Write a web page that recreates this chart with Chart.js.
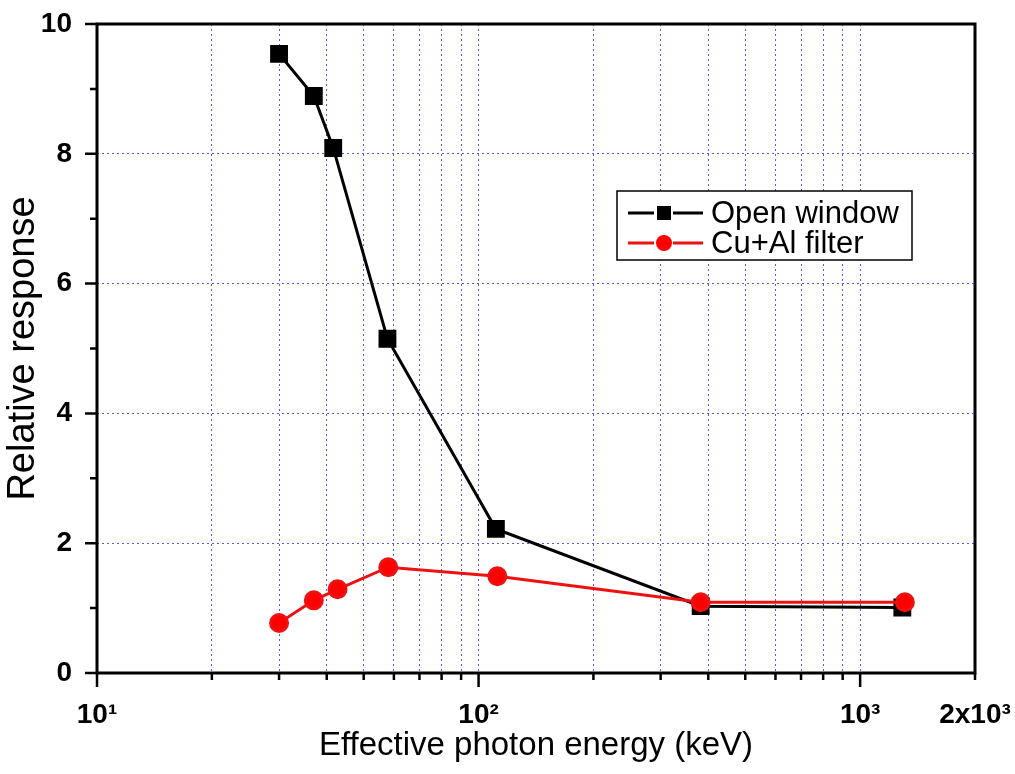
<!DOCTYPE html>
<html>
<head>
<meta charset="utf-8">
<script src="https://cdn.jsdelivr.net/npm/chart.js@4"></script>
<style>
  html, body { margin: 0; padding: 0; background: #fff; }
  #wrap { width: 1015px; height: 774px; }
</style>
</head>
<body>
<div id="wrap"><canvas id="grafico"></canvas></div>
<script>
// datos
const openEnergy = [30, 37, 41.6, 57.7, 111, 382, 1290];
const openResp = [9.54, 8.89, 8.09, 5.15, 2.22, 1.03, 1.01];
const filterEnergy = [30, 37, 42.7, 58, 112, 382, 1310];
const filterResp = [0.77, 1.12, 1.29, 1.63, 1.49, 1.09, 1.09];

const xTicks = [10, 20, 30, 40, 50, 60, 70, 80, 90, 100, 200, 300, 400, 500, 600, 700, 800, 900, 1000, 2000];
const xLabels = { 10: "10\u00B9", 100: "10\u00B2", 1000: "10\u00B3", 2000: "2x10\u00B3" };
const xMajor = [10, 100, 1000];
const xGrid = [20, 30, 40, 50, 60, 70, 80, 90, 100, 200, 300, 400, 500, 600, 700, 800, 900, 1000];
const yTicks = [0, 1, 2, 3, 4, 5, 6, 7, 8, 9, 10];
const yLabels = [0, 2, 4, 6, 8, 10];
const yGrid = [2, 4, 6, 8];

const gridColor = "rgb(90,90,225)";

// marco y marcas de los ejes
const marco = {
  id: "marco",
  afterDraw(chart) {
    const ctx = chart.ctx;
    const a = chart.chartArea;
    const x = chart.scales.x, y = chart.scales.y;
    ctx.save();
    ctx.strokeStyle = "#000";
    ctx.lineWidth = 3;
    ctx.strokeRect(a.left, a.top, a.right - a.left, a.bottom - a.top);
    ctx.lineWidth = 2.5;
    ctx.beginPath();
    xTicks.forEach(v => {
      const px = x.getPixelForValue(v);
      const len = xMajor.includes(v) ? 14 : 7;
      ctx.moveTo(px, a.bottom);
      ctx.lineTo(px, a.bottom + len);
    });
    yTicks.forEach(v => {
      const py = y.getPixelForValue(v);
      const len = yLabels.includes(v) ? 12 : 7;
      ctx.moveTo(a.left, py);
      ctx.lineTo(a.left - len, py);
    });
    ctx.stroke();
    ctx.restore();
  }
};

// leyenda dentro del grafico
const leyenda = {
  id: "leyenda",
  afterDraw(chart) {
    const ctx = chart.ctx;
    const bx = 617, by = 191, bw = 295, bh = 69;
    ctx.save();
    ctx.fillStyle = "#fff";
    ctx.fillRect(bx, by, bw, bh);
    ctx.strokeStyle = "#000";
    ctx.lineWidth = 1.5;
    ctx.strokeRect(bx, by, bw, bh);
    const filas = [chart.data.datasets[1], chart.data.datasets[0]];
    filas.forEach((ds, i) => {
      const cy = by + 22 + i * 30;
      ctx.strokeStyle = ds.borderColor;
      ctx.lineWidth = 3;
      ctx.beginPath();
      ctx.moveTo(628, cy);
      ctx.lineTo(654, cy);
      ctx.moveTo(673, cy);
      ctx.lineTo(703, cy);
      ctx.stroke();
      ctx.fillStyle = ds.backgroundColor;
      if (ds.pointStyle === "rect") {
        ctx.fillRect(664 - 7, cy - 7, 14, 14);
      } else {
        ctx.beginPath();
        ctx.arc(664, cy, 8, 0, Math.PI * 2);
        ctx.fill();
      }
      ctx.fillStyle = "#000";
      ctx.font = "31px Arial, 'Liberation Sans', sans-serif";
      ctx.textBaseline = "middle";
      ctx.textAlign = "left";
      ctx.fillText(ds.label, 711, cy + 1);
    });
    ctx.restore();
  }
};

new Chart(document.getElementById("grafico"), {
  type: "scatter",
  data: {
    datasets: [
      {
        label: "Cu+Al filter",
        data: filterEnergy.map((e, i) => ({ x: e, y: filterResp[i] })),
        showLine: true,
        borderColor: "#ee1111",
        backgroundColor: "#ff0000",
        borderWidth: 3,
        pointStyle: "circle",
        pointRadius: 8.5,
        pointHoverRadius: 8.5,
        order: 0
      },
      {
        label: "Open window",
        data: openEnergy.map((e, i) => ({ x: e, y: openResp[i] })),
        showLine: true,
        borderColor: "#000",
        backgroundColor: "#000",
        borderWidth: 3,
        pointStyle: "rect",
        pointRadius: 10.5,
        pointHoverRadius: 10.5,
        order: 1
      }
    ]
  },
  options: {
    responsive: true,
    maintainAspectRatio: false,
    animation: false,
    layout: { padding: { left: 0, top: 24, right: 40, bottom: 0 } },
    plugins: { legend: { display: false }, tooltip: { enabled: false } },
    scales: {
      x: {
        type: "logarithmic",
        min: 10,
        max: 2000,
        afterBuildTicks: s => { s.ticks = xTicks.map(v => ({ value: v })); },
        afterFit: s => { s.height = 101; s.paddingLeft = 0; s.paddingRight = 0; },
        border: { display: false, dash: [2, 3] },
        grid: {
          drawTicks: false,
          lineWidth: 1,
          color: c => (c.tick && xGrid.includes(c.tick.value)) ? gridColor : "rgba(0,0,0,0)"
        },
        ticks: {
          autoSkip: false,
          maxRotation: 0,
          padding: 25,
          color: "#000",
          font: { family: "Arial, 'Liberation Sans', sans-serif", size: 28, weight: "bold" },
          callback: v => xLabels[v] || ""
        },
        title: {
          display: true,
          text: "Effective photon energy (keV)",
          color: "#000",
          padding: { top: 4, bottom: 8 },
          font: { family: "Arial, 'Liberation Sans', sans-serif", size: 33 }
        }
      },
      y: {
        min: 0,
        max: 10,
        afterBuildTicks: s => { s.ticks = yTicks.map(v => ({ value: v })); },
        afterFit: s => { s.width = 97; s.paddingTop = 0; s.paddingBottom = 0; },
        border: { display: false, dash: [2, 3] },
        grid: {
          drawTicks: false,
          lineWidth: 1,
          color: c => (c.tick && yGrid.includes(c.tick.value)) ? gridColor : "rgba(0,0,0,0)"
        },
        ticks: {
          autoSkip: false,
          padding: 25,
          color: "#000",
          font: { family: "Arial, 'Liberation Sans', sans-serif", size: 28, weight: "bold" },
          callback: v => yLabels.includes(v) ? String(v) : ""
        },
        title: {
          display: true,
          text: "Relative response",
          color: "#000",
          padding: { top: 1, bottom: 1 },
          font: { family: "Arial, 'Liberation Sans', sans-serif", size: 38 }
        }
      }
    }
  },
  plugins: [marco, leyenda]
});
</script>
</body>
</html>
